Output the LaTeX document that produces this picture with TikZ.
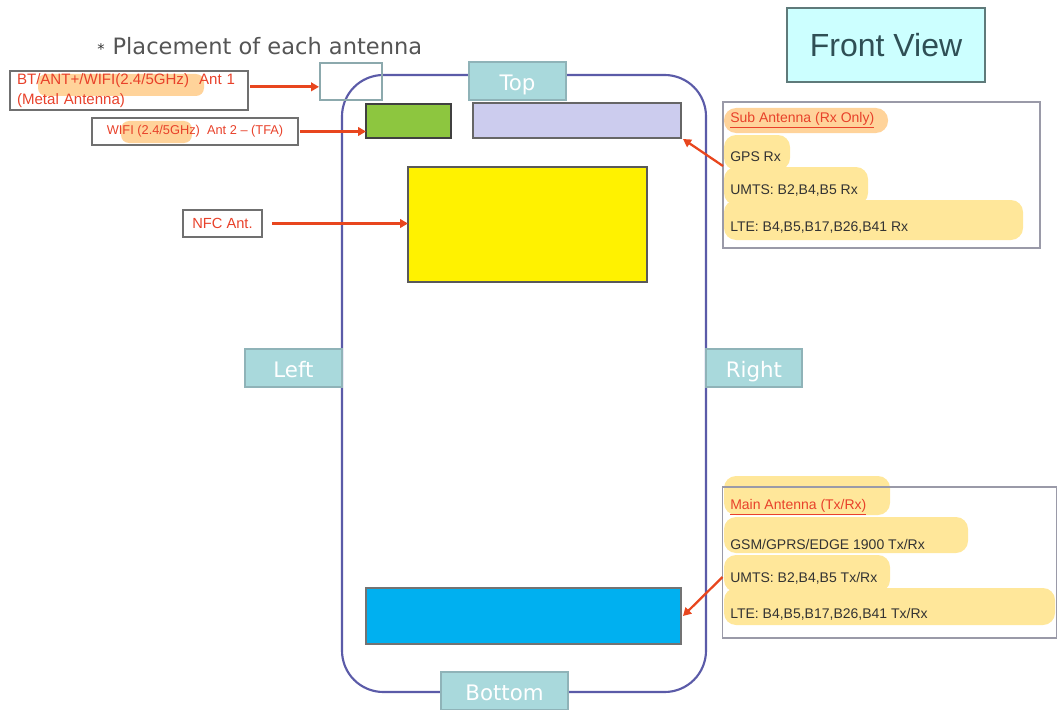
\documentclass[tikz,border=0pt]{standalone}
\usepackage{fontspec}
\setmainfont{Liberation Sans}
\newfontfamily\dejavu{DejaVu Sans}
\usetikzlibrary{arrows.meta}
\definecolor{phoneblue}{HTML}{5B5BA8}
\definecolor{tagfill}{HTML}{A9D9DC}
\definecolor{tagline}{HTML}{8FB3B8}
\definecolor{redtxt}{HTML}{E8412A}
\definecolor{arrowred}{HTML}{E8461E}
\definecolor{hl}{HTML}{FFE79A}
\definecolor{hlor}{HTML}{FFD39A}
\definecolor{fvfill}{HTML}{CCFFFF}
\definecolor{fvline}{HTML}{5F7A7A}
\definecolor{fvtext}{HTML}{2F4F55}
\definecolor{grtxt}{HTML}{555555}
\definecolor{lblline}{HTML}{707070}
\definecolor{infoline}{HTML}{9A9AA8}
\definecolor{txtdark}{HTML}{333333}
\definecolor{antgreen}{HTML}{8DC63F}
\definecolor{antlav}{HTML}{CCCCEE}
\definecolor{antblue}{HTML}{00B0F0}
\newcommand\pxu{0.75pt}
\begin{document}
\begin{tikzpicture}[x=0.75pt,y=-0.75pt,
  box/.style={rectangle, inner sep=0pt, outer sep=0pt},
  tag/.style={box, draw=tagline, fill=tagfill, line width=1.2pt, text=white, font=\dejavu\fontsize{16}{18}\selectfont,
    text height=16pt, text depth=1.3pt},
  lbl/.style={box, draw=lblline, line width=0.9pt, text=redtxt},
  arr/.style={-{Triangle[length=6pt,width=6.5pt]}, draw=arrowred, line width=2pt},
  hlb/.style={fill=hl, rounded corners=9pt},
  infobox/.style={box, draw=infoline, line width=1pt},
  info/.style={anchor=west, inner sep=0pt, text=txtdark, font=\fontsize{10.5}{12}\selectfont},
  infotitle/.style={info, text=redtxt},
]
\useasboundingbox (0,0) rectangle (1057,710);

% title
\node[anchor=west, inner sep=0pt, text=grtxt, font=\dejavu\fontsize{16.9}{20}\selectfont] (title) at (97,46)
  {{\color{txtdark}\fontsize{11}{12}\selectfont *}\kern6pt Placement of each antenna};

% front view
\node[box, draw=fvline, line width=2pt, fill=fvfill, minimum width=198*\pxu, minimum height=74*\pxu,
  font=\fontsize{24}{27}\selectfont, text=fvtext] (fv) at (886,45) {Front View};

% phone body
\node[box, draw=phoneblue, line width=1.6pt, rounded corners=31pt,
  minimum width=364*\pxu, minimum height=617*\pxu] (phone) at (524,383.5) {};

% side tags
\node[tag, minimum width=97*\pxu, minimum height=38*\pxu] (top) at (517.5,81) {Top};
\node[tag, minimum width=97*\pxu, minimum height=38*\pxu] (left) at (293.5,368) {Left};
\node[tag, minimum width=96*\pxu, minimum height=38*\pxu] (right) at (754,368) {Right};
\node[tag, minimum width=127*\pxu, minimum height=38*\pxu] (bottom) at (504.5,691) {Bottom};

% antennas
\node[box, draw=tagline!80!gray, line width=1.3pt, minimum width=62*\pxu, minimum height=37*\pxu] (ant1) at (351,81.5) {};
\node[box, draw=black!75, fill=antgreen, line width=1pt, minimum width=85*\pxu, minimum height=34*\pxu] (green) at (408.5,121) {};
\node[box, draw=black!60, fill=antlav, line width=1pt, minimum width=208*\pxu, minimum height=35*\pxu] (lav) at (577,120.5) {};
\node[box, draw=black!65, fill=yellow, line width=1pt, minimum width=239*\pxu, minimum height=115*\pxu] (yellowant) at (527.5,224.5) {};
\node[box, draw=black!55, fill=antblue, line width=1pt, minimum width=315*\pxu, minimum height=56*\pxu] (blue) at (523.5,616) {};

% left labels
\fill[hlor, rounded corners=6pt] (38,74) rectangle (204,96);
\fill[hlor, rounded corners=6pt] (121,121) rectangle (192,143);
\node[lbl, minimum width=238*\pxu, minimum height=39*\pxu, align=left, text width=224*\pxu,
  font=\fontsize{11.3}{15}\selectfont] (bt) at (129,90.5)
  {BT/ANT+/WIFI(2.4/5GHz)\ \ Ant 1\\(Metal Antenna)};
\node[lbl, minimum width=206*\pxu, minimum height=27*\pxu, font=\fontsize{9.6}{11}\selectfont] (wifi) at (195,131.5)
  {WIFI (2.4/5GHz)\ \ Ant 2 -- (TFA)};
\node[lbl, minimum width=79*\pxu, minimum height=27*\pxu, font=\fontsize{11}{12}\selectfont] (nfc) at (222.5,223.5)
  {NFC Ant.};

% sub antenna box
\fill[hlor] (724,108) [rounded corners=9pt] rectangle (888,133);
\fill[hlb] (724,135) rectangle (790,170);
\fill[hlb] (724,167) rectangle (868,205);
\fill[hlb] (724,200) rectangle (1023,240);
\node[infobox, minimum width=317*\pxu, minimum height=146*\pxu] (sub) at (881.5,175) {};
\node[infotitle] (subt) at (730,120) {\underline{Sub Antenna (Rx Only)}};
\node[info] (subgps) at (730,157) {GPS Rx};
\node[info] (subumts) at (730,191) {UMTS: B2,B4,B5 Rx};
\node[info] (sublte) at (730,228) {LTE: B4,B5,B17,B26,B41 Rx};

% main antenna box
\fill[hlb] (724,476) rectangle (890,515);
\fill[hlb] (724,517) rectangle (968,553);
\fill[hlb] (724,555) rectangle (890,592);
\fill[hlb] (724,588) rectangle (1055,625);
\node[infobox, minimum width=334*\pxu, minimum height=151*\pxu] (main) at (889.5,562.5) {};
\node[infotitle] (maint) at (730,507) {\underline{Main Antenna (Tx/Rx)}};
\node[info] (maingsm) at (730,544) {GSM/GPRS/EDGE 1900 Tx/Rx};
\node[info] (mainumts) at (730,578) {UMTS: B2,B4,B5 Tx/Rx};
\node[info] (mainlte) at (730,614) {LTE: B4,B5,B17,B26,B41 Tx/Rx};

% arrows
\coordinate (a1) at ([yshift=-4pt]ant1.west);
\draw[arr, shorten <=2*\pxu, shorten >=1*\pxu] (bt.east |- a1) -- (a1);
\draw[arr, shorten <=2*\pxu] (wifi.east) -- (wifi.east -| green.west);
\draw[arr, shorten <=10*\pxu] (nfc.east) -- (nfc.east -| yellowant.west);
\draw[arr, line width=1.7pt] ([yshift=6.75pt]sub.west) -- ([shift={(2*\pxu,-1*\pxu)}]lav.south east);
\draw[arr, line width=1.7pt] ([yshift=-10.9pt]main.west) -- ([xshift=2*\pxu]blue.east);
\end{tikzpicture}
\end{document}
